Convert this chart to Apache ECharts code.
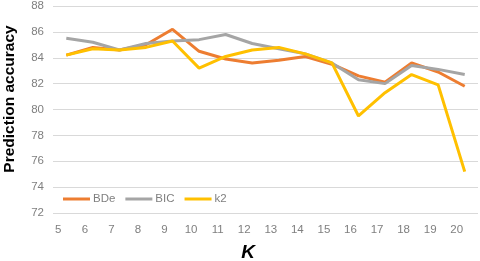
<!DOCTYPE html>
<html>
<head>
<meta charset="utf-8">
<script src="https://cdn.jsdelivr.net/npm/echarts@6/dist/echarts.min.js"></script>
<style>html,body{margin:0;padding:0;background:#fff;}#c{width:480px;height:261px;}</style>
</head>
<body>
<div id="c"></div>
<script>
const categories = ['5','6','7','8','9','10','11','12','13','14','15','16','17','18','19','20'];
const bde = [84.2, 84.8, 84.6, 85.0, 86.2, 84.5, 83.9, 83.6, 83.8, 84.1, 83.5, 82.6, 82.1, 83.6, 82.9, 81.8];
const bic = [85.5, 85.2, 84.6, 85.1, 85.3, 85.4, 85.8, 85.1, 84.7, 84.3, 83.6, 82.3, 82.0, 83.4, 83.1, 82.7];
const k2  = [84.2, 84.7, 84.6, 84.8, 85.3, 83.2, 84.1, 84.6, 84.8, 84.3, 83.6, 79.5, 81.3, 82.7, 81.9, 75.2];
const yTicks = {min: 72, max: 88, interval: 2};

const chart = echarts.init(document.getElementById('c'), null, {renderer: 'canvas'});
const font = 'Liberation Sans, Arial, sans-serif';
const mk = (name, data, color) => ({
  name, type: 'line', data, symbol: 'none', smooth: false,
  lineStyle: {color, width: 3}, itemStyle: {color}
});
chart.setOption({
  animation: false,
  grid: {left: 53, right: 2, top: 6, bottom: 48, containLabel: false},
  xAxis: {
    type: 'category', data: categories, boundaryGap: true,
    axisLine: {show: false}, axisTick: {show: false},
    axisLabel: {color: '#7f7f7f', fontSize: 11.5, fontFamily: font, margin: 11, padding: [0, 16, 0, 0], interval: 0}
  },
  yAxis: {
    type: 'value', min: yTicks.min, max: yTicks.max, interval: yTicks.interval,
    axisLine: {show: false}, axisTick: {show: false},
    axisLabel: {color: '#7f7f7f', fontSize: 11.5, fontFamily: font, margin: 9},
    splitLine: {lineStyle: {color: '#d9d9d9', width: 1}}
  },
  legend: {
    left: 63, top: 193, padding: 0, itemWidth: 27, itemHeight: 3, itemGap: 10, icon: 'rect',
    textStyle: {color: '#7f7f7f', fontSize: 11.5, fontFamily: font, padding: [0, 0, 0, -2]},
    data: ['BDe', 'BIC', 'k2']
  },
  graphic: [
    {type: 'text', x: 10, y: 99, rotation: Math.PI / 2,
     style: {text: 'Prediction accuracy', font: 'bold 15.5px ' + font, fill: '#000', textAlign: 'center', textVerticalAlign: 'middle'}},
    {type: 'text', x: 248, y: 253,
     style: {text: 'K', font: 'italic bold 19px ' + font, fill: '#000', textAlign: 'center', textVerticalAlign: 'middle'}}
  ],
  series: [mk('BDe', bde, '#ED7D31'), mk('BIC', bic, '#A5A5A5'), mk('k2', k2, '#FFC000')]
});
</script>
</body>
</html>
